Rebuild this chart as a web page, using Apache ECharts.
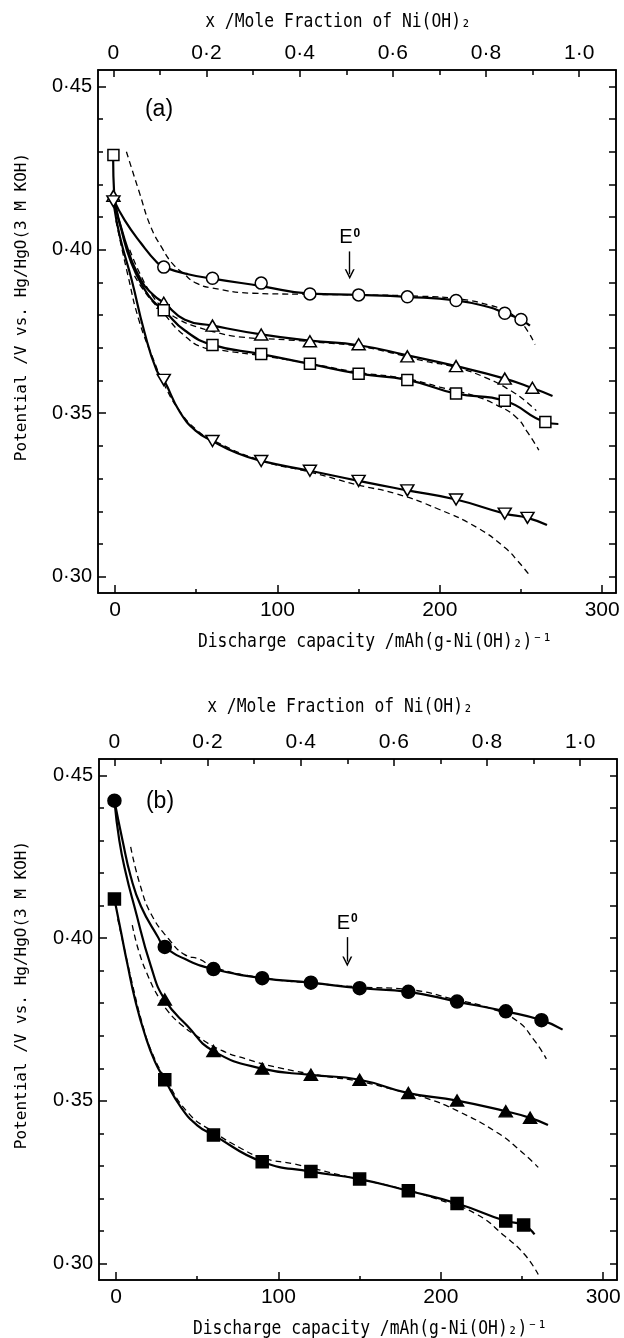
<!DOCTYPE html>
<html>
<head>
<meta charset="utf-8">
<script src="https://cdn.jsdelivr.net/npm/echarts@6/dist/echarts.min.js"></script>
<style>
html, body { margin: 0; padding: 0; background: #fff; }
#chart { width: 624px; height: 1338px; }
</style>
</head>
<body>
<div id="chart"></div>
<script>
// ---------- axis ticks / labels ----------
const capTicksMajor = [0, 100, 200, 300];
const capTicksMinor = [50, 150, 250];
const fracTicksMajor = [0, 0.2, 0.4, 0.6, 0.8, 1.0];
const fracTicksMinor = [0.1, 0.3, 0.5, 0.7, 0.9];
const potTicksMajor = [0.30, 0.35, 0.40, 0.45];
const potTicksMinor = [0.31, 0.32, 0.33, 0.34, 0.36, 0.37, 0.38, 0.39, 0.41, 0.42, 0.43, 0.44];
const potTicksAll = [0.30, 0.31, 0.32, 0.33, 0.34, 0.35, 0.36, 0.37, 0.38, 0.39, 0.40, 0.41, 0.42, 0.43, 0.44, 0.45];

// ---------- panel (a): open symbols ----------
const aCircle = [[30, 0.3947], [60, 0.3913], [90, 0.3898], [120, 0.3865], [150, 0.3862], [180, 0.3856], [210, 0.3845], [240, 0.3806], [250, 0.3787]];
const aCircleFit = [[-1, 0.4155], [6, 0.409], [16, 0.402], [26, 0.396], [30, 0.3947], [45, 0.3925], [60, 0.3912], [90, 0.3889], [120, 0.3866], [150, 0.3862], [180, 0.3856], [210, 0.3845], [230, 0.3825], [240, 0.3806], [250, 0.3786], [255.5, 0.3768]];
const aCircleCalc = [[7, 0.430], [15, 0.4175], [22, 0.407], [29, 0.4005], [35, 0.396], [42, 0.3928], [50, 0.3898], [60, 0.3883], [85, 0.3867], [116, 0.3864], [150, 0.3862], [188, 0.3858], [214, 0.3848], [231, 0.383], [242, 0.381], [249, 0.3782], [254, 0.3752], [258.7, 0.371]];

const aTri = [[-1, 0.4165], [30, 0.3838], [60, 0.3768], [90, 0.3741], [120, 0.3720], [150, 0.3711], [180, 0.3674], [210, 0.3644], [240, 0.3606], [257, 0.3578]];
const aTriFit = [[-1, 0.4165], [6, 0.403], [16, 0.3907], [24, 0.386], [30, 0.3838], [43, 0.3786], [60, 0.3768], [90, 0.3741], [120, 0.3722], [150, 0.3708], [180, 0.3677], [210, 0.3644], [240, 0.3606], [256.6, 0.3578], [269.4, 0.3553]];
const aTriCalc = [[9, 0.400], [16, 0.392], [23, 0.386], [30, 0.382], [40, 0.3785], [50, 0.3765], [60, 0.375], [76, 0.3734], [107, 0.3724], [130, 0.3715], [150, 0.3705], [170, 0.3685], [190, 0.366], [210, 0.364], [230, 0.3605], [245, 0.3565], [251, 0.3544], [259.4, 0.3508]];

const aSquare = [[-1, 0.429], [30, 0.3815], [60, 0.3709], [90, 0.3681], [120, 0.3651], [150, 0.3621], [180, 0.3602], [210, 0.3560], [240, 0.3538], [265, 0.3473]];
const aSquareFit = [[-1.2, 0.429], [-0.5, 0.4165], [4, 0.406], [10, 0.396], [18, 0.388], [24, 0.384], [30, 0.3815], [43, 0.3753], [60, 0.3709], [90, 0.3681], [120, 0.3651], [150, 0.3621], [180, 0.3602], [210, 0.3560], [240, 0.3538], [265, 0.3473], [273, 0.3467]];
const aSquareCalc = [[12, 0.392], [20, 0.386], [30, 0.3805], [41, 0.3745], [55, 0.370], [66, 0.3692], [90, 0.3676], [120, 0.3652], [150, 0.3625], [180, 0.3605], [200, 0.358], [220, 0.3555], [235, 0.3525], [247, 0.3488], [254, 0.3442], [261, 0.3387]];

const aInvTri = [[-1, 0.4148], [30, 0.3602], [60, 0.3415], [90, 0.3354], [120, 0.3324], [150, 0.3293], [180, 0.3264], [210, 0.3236], [240, 0.3193], [254, 0.3180]];
const aInvTriFit = [[-1, 0.4145], [3, 0.404], [10.3, 0.3907], [18, 0.375], [25.6, 0.3631], [30, 0.3602], [40, 0.3503], [50, 0.3445], [60, 0.3415], [75, 0.3378], [90, 0.3354], [120, 0.3324], [150, 0.3293], [180, 0.3264], [210, 0.3236], [240, 0.3193], [254, 0.318], [266, 0.3158]];
const aInvTriCalc = [[0.5, 0.409], [8, 0.392], [15, 0.378], [24, 0.366], [30, 0.359], [40, 0.3505], [50, 0.345], [60, 0.3418], [90, 0.3355], [120, 0.332], [150, 0.328], [173, 0.3254], [199, 0.3207], [223, 0.315], [240, 0.3089], [248, 0.3048], [255.6, 0.3002]];

// ---------- panel (b): filled symbols ----------
const bCircle = [[-1, 0.4422], [30, 0.3973], [60, 0.3905], [90, 0.3877], [120, 0.3863], [150, 0.3846], [180, 0.3835], [210, 0.3805], [240, 0.3775], [262, 0.3748]];
const bCircleFit = [[-1, 0.4422], [4, 0.430], [9, 0.419], [15.4, 0.4097], [25.6, 0.4005], [30, 0.3973], [45, 0.393], [60, 0.3905], [90, 0.3877], [120, 0.3863], [150, 0.3846], [180, 0.3835], [210, 0.3805], [240, 0.3775], [262, 0.3748], [275, 0.3719]];
const bCircleCalc = [[9, 0.428], [15, 0.416], [22, 0.407], [32.8, 0.3995], [42, 0.395], [52, 0.3934], [60, 0.391], [90, 0.3878], [120, 0.3862], [150, 0.385], [180, 0.3842], [210, 0.381], [230, 0.3785], [246.6, 0.3747], [257.6, 0.3686], [265, 0.3629]];

const bTri = [[30, 0.3811], [60, 0.3653], [90, 0.3599], [120, 0.3580], [150, 0.3565], [180, 0.3524], [210, 0.3501], [240, 0.3468], [255, 0.3448]];
const bTriFit = [[-1, 0.4422], [2, 0.430], [6, 0.420], [11.3, 0.4097], [21.5, 0.3913], [30, 0.3811], [44, 0.373], [60, 0.3653], [90, 0.3599], [120, 0.3580], [150, 0.3565], [180, 0.3524], [210, 0.3501], [240, 0.3468], [255, 0.3448], [266, 0.3426]];
const bTriCalc = [[10, 0.404], [14, 0.396], [20, 0.388], [26, 0.382], [32, 0.3775], [40, 0.3735], [50.7, 0.3696], [65, 0.3655], [80, 0.3629], [100, 0.3602], [130, 0.3575], [150, 0.356], [173, 0.3532], [190, 0.351], [210, 0.347], [234.6, 0.3403], [249, 0.3347], [260, 0.3296]];

const bSquare = [[-1, 0.412], [30, 0.3565], [60, 0.3395], [90, 0.3313], [120, 0.3283], [150, 0.3260], [180, 0.3224], [210, 0.3185], [240, 0.3131], [251, 0.3119]];
const bSquareFit = [[-1, 0.412], [3, 0.402], [7, 0.392], [12, 0.3805], [18, 0.370], [24, 0.362], [30, 0.3565], [40, 0.348], [50, 0.3425], [60, 0.3395], [90, 0.3313], [120, 0.3283], [150, 0.3260], [180, 0.3224], [210, 0.3185], [240, 0.3131], [251, 0.3119], [257.7, 0.309]];
const bSquareCalc = [[1, 0.406], [5, 0.397], [10, 0.386], [16, 0.374], [22, 0.365], [30, 0.3572], [45, 0.346], [60, 0.3405], [76, 0.3357], [90, 0.3325], [110, 0.3306], [140, 0.327], [173, 0.3234], [198, 0.3198], [222, 0.3152], [239.3, 0.3085], [251.5, 0.3029], [260, 0.2967]];

// E0 arrows (x, top, tip)
const aE0 = [144.5, 0.3995, 0.3925];
const bE0 = [142.4, 0.4003, 0.3928];

const X_MIN = -10.5, X_MAX = 308.5;
const T_MIN = -0.033, T_MAX = 1.079;
const Y_MIN = 0.295, Y_MAX = 0.455;

const tickFont = 'Liberation Sans';
const monoFont = '"DejaVu Sans Mono"';

function dot(s) { return s.replace('.', '\u00b7'); }

function makeX(g) {
  const base = { gridIndex: g, type: 'value', splitLine: { show: false } };
  const tickStyle = { color: '#000', width: 1.5 };
  return [
    Object.assign({}, base, {
      position: 'bottom', min: X_MIN, max: X_MAX,
      axisLine: { show: true, onZero: false, lineStyle: { color: '#000', width: 1.5 } },
      axisTick: { show: true, inside: true, length: 8, customValues: capTicksMajor, lineStyle: tickStyle },
      axisLabel: { show: true, customValues: capTicksMajor, margin: 7, fontSize: 21, fontFamily: tickFont, color: '#000' }
    }),
    Object.assign({}, base, {
      position: 'bottom', min: X_MIN, max: X_MAX,
      axisLine: { show: false, onZero: false },
      axisTick: { show: true, inside: true, length: 4, customValues: capTicksMinor, lineStyle: tickStyle },
      axisLabel: { show: false }
    }),
    Object.assign({}, base, {
      position: 'top', min: T_MIN, max: T_MAX,
      axisLine: { show: true, onZero: false, lineStyle: { color: '#000', width: 1.5 } },
      axisTick: { show: true, inside: true, length: 7, customValues: fracTicksMajor, lineStyle: tickStyle },
      axisLabel: {
        show: true, customValues: fracTicksMajor, margin: 6, fontSize: 21, fontFamily: tickFont, color: '#000',
        formatter: function (v) { return v === 0 ? '0' : dot(v.toFixed(1)); }
      }
    }),
    Object.assign({}, base, {
      position: 'top', min: T_MIN, max: T_MAX,
      axisLine: { show: false, onZero: false },
      axisTick: { show: true, inside: true, length: 5, customValues: fracTicksMinor, lineStyle: tickStyle },
      axisLabel: { show: false }
    })
  ];
}

function makeY(g) {
  const base = { gridIndex: g, type: 'value', min: Y_MIN, max: Y_MAX, splitLine: { show: false } };
  const tickStyle = { color: '#000', width: 1.5 };
  return [
    Object.assign({}, base, {
      position: 'left',
      axisLine: { show: true, onZero: false, lineStyle: { color: '#000', width: 1.5 } },
      axisTick: { show: true, inside: true, length: 8, customValues: potTicksMajor, lineStyle: tickStyle },
      axisLabel: {
        show: true, customValues: potTicksMajor, margin: 6, fontSize: 20, fontFamily: tickFont, color: '#000',
        formatter: function (v) { return dot(v.toFixed(2)); }
      }
    }),
    Object.assign({}, base, {
      position: 'left',
      axisLine: { show: false, onZero: false },
      axisTick: { show: true, inside: true, length: 5, customValues: potTicksMinor, lineStyle: tickStyle },
      axisLabel: { show: false }
    }),
    Object.assign({}, base, {
      position: 'right',
      axisLine: { show: true, onZero: false, lineStyle: { color: '#000', width: 1.5 } },
      axisTick: { show: true, inside: true, length: 7, customValues: potTicksAll, lineStyle: tickStyle },
      axisLabel: { show: false }
    })
  ];
}

function curve(g, data, dashed) {
  return {
    type: 'line', xAxisIndex: 4 * g, yAxisIndex: 3 * g, data: data,
    smooth: 0.5, symbol: 'none', silent: true, z: 2,
    lineStyle: dashed ? { color: '#000', width: 1.3, type: [6, 4] } : { color: '#000', width: 2.2 }
  };
}

function marks(g, data, symbol, filled, size, rotate) {
  return {
    type: 'scatter', xAxisIndex: 4 * g, yAxisIndex: 3 * g, data: data,
    symbol: symbol, symbolSize: size, symbolRotate: rotate || 0, z: 5, silent: true,
    itemStyle: { color: filled ? '#000' : '#fff', borderColor: '#000', borderWidth: 1.5, opacity: 1 }
  };
}

const chevron = 'path://M0,10 L5,0 L10,10 L8.4,10 L5,3.2 L1.6,10 Z';

function e0Line(e) {
  return {
    silent: true, symbol: ['none', chevron], symbolSize: [10, 10],
    lineStyle: { color: '#000', width: 1.4, type: 'solid' },
    label: {
      show: true, position: 'start', distance: 4,
      formatter: '{e|E}{s|0}',
      rich: {
        e: { fontSize: 20, fontFamily: tickFont, color: '#000', lineHeight: 20, verticalAlign: 'bottom' },
        s: { fontSize: 12, fontFamily: tickFont, fontWeight: 'bold', color: '#000', lineHeight: 20, verticalAlign: 'top', padding: [0, 0, 0, 1] }
      }
    },
    data: [[{ coord: [e[0], e[1]] }, { coord: [e[0], e[2]] }]]
  };
}

function title(x, y, text, size, sx, rot, family) {
  return {
    type: 'text', x: x, y: y, scaleX: sx, rotation: rot || 0, silent: true,
    style: { text: text, fontSize: size, fontFamily: family || monoFont, fill: '#000', align: 'center', verticalAlign: 'middle' }
  };
}

const aCircleSeries = marks(0, aCircle, 'circle', false, 12);
aCircleSeries.markLine = e0Line(aE0);
const bCircleSeries = marks(1, bCircle, 'circle', true, 13);
bCircleSeries.markLine = e0Line(bE0);

const option = {
  animation: false,
  backgroundColor: '#fff',
  grid: [
    { left: 98, top: 70, width: 518, height: 523, show: true, borderColor: '#000', borderWidth: 1.5, backgroundColor: 'transparent' },
    { left: 99, top: 759, width: 518, height: 521, show: true, borderColor: '#000', borderWidth: 1.5, backgroundColor: 'transparent' }
  ],
  xAxis: makeX(0).concat(makeX(1)),
  yAxis: makeY(0).concat(makeY(1)),
  graphic: [
    title(338, 22, 'x /Mole Fraction of Ni(OH)\u2082', 19, 0.86),
    title(375, 642, 'Discharge capacity /mAh(g-Ni(OH)\u2082)\u207b\u00b9', 19, 0.86),
    title(22, 307, 'Potential /V vs. Hg/HgO(3 M KOH)', 16, 1, Math.PI / 2),
    title(159, 110, '(a)', 23, 1, 0, tickFont),
    title(340, 707, 'x /Mole Fraction of Ni(OH)\u2082', 19, 0.86),
    title(370, 1329, 'Discharge capacity /mAh(g-Ni(OH)\u2082)\u207b\u00b9', 19, 0.86),
    title(22, 995, 'Potential /V vs. Hg/HgO(3 M KOH)', 16, 1, Math.PI / 2),
    title(160, 802, '(b)', 23, 1, 0, tickFont)
  ],
  series: [
    curve(0, aCircleCalc, true),
    curve(0, aTriCalc, true),
    curve(0, aSquareCalc, true),
    curve(0, aInvTriCalc, true),
    curve(0, aCircleFit, false),
    curve(0, aTriFit, false),
    curve(0, aSquareFit, false),
    curve(0, aInvTriFit, false),
    aCircleSeries,
    marks(0, aTri, 'triangle', false, [13, 11]),
    marks(0, aSquare, 'rect', false, 11),
    marks(0, aInvTri, 'triangle', false, [13, 11], 180),

    curve(1, bCircleCalc, true),
    curve(1, bTriCalc, true),
    curve(1, bSquareCalc, true),
    curve(1, bCircleFit, false),
    curve(1, bTriFit, false),
    curve(1, bSquareFit, false),
    bCircleSeries,
    marks(1, bTri, 'triangle', true, [13, 11]),
    marks(1, bSquare, 'rect', true, 12)
  ]
};

const chart = echarts.init(document.getElementById('chart'), null, { renderer: 'canvas' });
chart.setOption(option);
</script>
</body>
</html>
